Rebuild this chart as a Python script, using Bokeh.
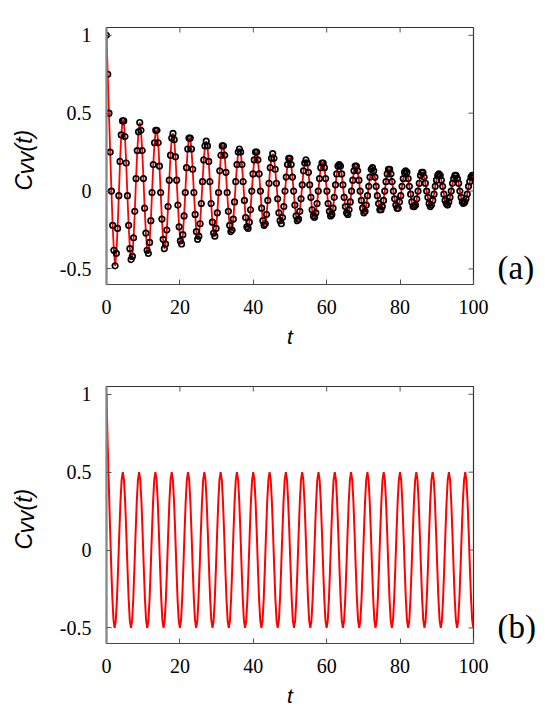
import math
from bokeh.plotting import figure
from bokeh.layouts import column, row
from bokeh.models import Range1d, FixedTicker, Label
from bokeh.embed import file_html
from bokeh.resources import INLINE

# ---------------- data ----------------
X_TICKS = [0, 20, 40, 60, 80, 100]
X_TICK_LABELS = ["0", "20", "40", "60", "80", "100"]
Y_TICKS = [-0.5, 0, 0.5, 1]
Y_TICK_LABELS = ["-0.5", "0", "0.5", "1"]
PANEL_TAGS = ["(a)", "(b)"]

# panel (a): sampled C_vv(t), time step between samples
DT_A = 0.3355
C_A = [
    1.0, 0.75, 0.5, 0.25, 0.0, -0.22, -0.38, -0.48, -0.40, -0.24, -0.03, 0.19, 0.36, 0.45, 0.45, 0.35, 0.18, -0.03, -0.22, -0.37, -0.44, -0.42, -0.30, -0.13, 0.08, 0.26, 0.38,
    0.44, 0.39, 0.26, 0.08, -0.11, -0.27, -0.38, -0.40, -0.33, -0.19, -0.01, 0.17, 0.31, 0.39, 0.39, 0.31, 0.16, -0.01, -0.18, -0.31, -0.37, -0.34, -0.25, -0.10, 0.07, 0.23, 0.34,
    0.37, 0.33, 0.22, 0.07, -0.09, -0.23, -0.32, -0.34, -0.28, -0.16, -0.01, 0.15, 0.27, 0.34, 0.34, 0.27, 0.14, -0.01, -0.15, -0.26, -0.31, -0.29, -0.21, -0.08, 0.06, 0.20, 0.29,
    0.32, 0.29, 0.19, 0.06, -0.08, -0.20, -0.27, -0.29, -0.24, -0.14, -0.01, 0.13, 0.23, 0.29, 0.29, 0.23, 0.12, -0.01, -0.13, -0.22, -0.26, -0.25, -0.18, -0.07, 0.06, 0.17, 0.25,
    0.27, 0.25, 0.17, 0.06, -0.06, -0.17, -0.23, -0.24, -0.20, -0.12, 0.00, 0.11, 0.20, 0.25, 0.25, 0.20, 0.11, 0.00, -0.11, -0.19, -0.22, -0.21, -0.15, -0.06, 0.05, 0.15, 0.21,
    0.24, 0.21, 0.14, 0.05, -0.05, -0.14, -0.19, -0.21, -0.17, -0.10, 0.00, 0.09, 0.17, 0.21, 0.21, 0.17, 0.09, 0.00, -0.09, -0.16, -0.19, -0.18, -0.13, -0.05, 0.04, 0.13, 0.18,
    0.20, 0.18, 0.12, 0.04, -0.04, -0.12, -0.16, -0.17, -0.14, -0.08, 0.00, 0.08, 0.15, 0.18, 0.18, 0.15, 0.08, 0.00, -0.08, -0.13, -0.16, -0.15, -0.11, -0.04, 0.04, 0.11, 0.16,
    0.17, 0.16, 0.11, 0.04, -0.04, -0.10, -0.14, -0.15, -0.12, -0.07, 0.00, 0.07, 0.13, 0.16, 0.16, 0.13, 0.07, 0.00, -0.06, -0.11, -0.14, -0.13, -0.09, -0.03, 0.03, 0.09, 0.14,
    0.15, 0.13, 0.09, 0.03, -0.03, -0.08, -0.12, -0.12, -0.10, -0.06, 0.00, 0.06, 0.11, 0.14, 0.14, 0.11, 0.06, 0.00, -0.05, -0.09, -0.11, -0.11, -0.07, -0.03, 0.03, 0.08, 0.12,
    0.13, 0.12, 0.08, 0.03, -0.02, -0.07, -0.10, -0.10, -0.09, -0.05, 0.00, 0.05, 0.10, 0.12, 0.12, 0.09, 0.05, 0.00, -0.04, -0.08, -0.10, -0.09, -0.06, -0.02, 0.03, 0.07, 0.10,
    0.11, 0.10, 0.07, 0.03, -0.02, -0.06, -0.08, -0.09, -0.07, -0.04, 0.00, 0.05, 0.08, 0.10, 0.10, 0.08, 0.05, 0.00, -0.04, -0.07, -0.08, -0.07, -0.05, -0.02, 0.03, 0.06, 0.09,
    0.10, 0.09,
]

# panel (b): C_vv(t), time step between samples
DT_B = 0.31735
C_B = [
    1.0, 0.678, 0.414, 0.157, -0.09, -0.303, -0.447, -0.5, -0.451, -0.312, -0.111, 0.111, 0.312, 0.451,
    0.5, 0.451, 0.312, 0.111, -0.111, -0.312, -0.451, -0.5, -0.451, -0.312, -0.111, 0.111, 0.312, 0.451,
    0.5, 0.451, 0.312, 0.111, -0.111, -0.312, -0.451, -0.5, -0.451, -0.312, -0.111, 0.111, 0.312, 0.451,
    0.5, 0.451, 0.312, 0.111, -0.111, -0.312, -0.451, -0.5, -0.451, -0.312, -0.111, 0.111, 0.312, 0.451,
    0.5, 0.451, 0.312, 0.111, -0.111, -0.312, -0.451, -0.5, -0.451, -0.312, -0.111, 0.111, 0.312, 0.451,
    0.5, 0.451, 0.312, 0.111, -0.111, -0.312, -0.451, -0.5, -0.451, -0.312, -0.111, 0.111, 0.312, 0.451,
    0.5, 0.451, 0.312, 0.111, -0.111, -0.312, -0.451, -0.5, -0.451, -0.312, -0.111, 0.111, 0.312, 0.451,
    0.5, 0.451, 0.312, 0.111, -0.111, -0.312, -0.451, -0.5, -0.451, -0.312, -0.111, 0.111, 0.312, 0.451,
    0.5, 0.451, 0.312, 0.111, -0.111, -0.312, -0.451, -0.5, -0.451, -0.312, -0.111, 0.111, 0.312, 0.451,
    0.5, 0.451, 0.312, 0.111, -0.111, -0.312, -0.451, -0.5, -0.451, -0.312, -0.111, 0.111, 0.312, 0.451,
    0.5, 0.451, 0.312, 0.111, -0.111, -0.312, -0.451, -0.5, -0.451, -0.312, -0.111, 0.111, 0.312, 0.451,
    0.5, 0.451, 0.312, 0.111, -0.111, -0.312, -0.451, -0.5, -0.451, -0.312, -0.111, 0.111, 0.312, 0.451,
    0.5, 0.451, 0.312, 0.111, -0.111, -0.312, -0.451, -0.5, -0.451, -0.312, -0.111, 0.111, 0.312, 0.451,
    0.5, 0.451, 0.312, 0.111, -0.111, -0.312, -0.451, -0.5, -0.451, -0.312, -0.111, 0.111, 0.312, 0.451,
    0.5, 0.451, 0.312, 0.111, -0.111, -0.312, -0.451, -0.5, -0.451, -0.312, -0.111, 0.111, 0.312, 0.451,
    0.5, 0.451, 0.312, 0.111, -0.111, -0.312, -0.451, -0.5, -0.451, -0.312, -0.111, 0.111, 0.312, 0.451,
    0.5, 0.451, 0.312, 0.111, -0.111, -0.312, -0.451, -0.5, -0.451, -0.312, -0.111, 0.111, 0.312, 0.451,
    0.5, 0.451, 0.312, 0.111, -0.111, -0.312, -0.451, -0.5, -0.451, -0.312, -0.111, 0.111, 0.312, 0.451,
    0.5, 0.451, 0.312, 0.111, -0.111, -0.312, -0.451, -0.5, -0.451, -0.312, -0.111, 0.111, 0.312, 0.451,
    0.5, 0.451, 0.312, 0.111, -0.111, -0.312, -0.451, -0.5, -0.451, -0.312, -0.111, 0.111, 0.312, 0.451,
    0.5, 0.451, 0.312, 0.111, -0.111, -0.312, -0.451, -0.5, -0.451, -0.312, -0.111, 0.111, 0.312, 0.451,
    0.5, 0.451, 0.312, 0.111, -0.111, -0.312, -0.451, -0.5, -0.451, -0.312, -0.111, 0.111, 0.312, 0.451,
    0.5, 0.451, 0.312, 0.111, -0.111, -0.312, -0.451, -0.5,
]

T_A = [round(i * DT_A, 4) for i in range(len(C_A))]
T_B = [round(i * DT_B, 4) for i in range(len(C_B))]

SERIF = "Liberation Serif"
SANS = "Liberation Sans"
X_MIN, X_MAX = 0, 100
Y_MIN, Y_MAX = -0.6, 1.05

LEFT_W = 45     # strip holding the y-axis title
RIGHT_W = 55    # strip holding the panel tag
MAIN_W = 545 - LEFT_W - RIGHT_W
FRAME_H = 257   # plot-frame height in pixels (strips share the row's frame)


def text_strip(width, height):
    """Bare figure; the row aligns its frame with the main frame, so its
    data units are pixels measured from the frame's bottom-left corner."""
    s = figure(width=width, height=height,
               x_range=Range1d(0, width), y_range=Range1d(0, FRAME_H),
               x_axis_type=None, y_axis_type=None, title=None,
               output_backend="svg", toolbar_location=None,
               min_border=0, background_fill_color="white", border_fill_color="white")
    s.outline_line_color = None
    s.grid.visible = False
    return s


def make_panel(tag, height, border_top, border_bottom):
    p = figure(width=MAIN_W, height=height,
               x_range=Range1d(X_MIN, X_MAX), y_range=Range1d(Y_MIN, Y_MAX),
               output_backend="svg", toolbar_location=None,
               min_border_left=106 - LEFT_W, min_border_right=MAIN_W - (106 - LEFT_W) - 367,
               min_border_top=border_top, min_border_bottom=border_bottom,
               background_fill_color="white", border_fill_color="white")
    p.xgrid.visible = False
    p.ygrid.visible = False
    p.outline_line_color = "#333333"
    p.outline_line_width = 1.2

    xa = p.xaxis[0]
    ya = p.yaxis[0]
    xa.ticker = FixedTicker(ticks=X_TICKS)
    ya.ticker = FixedTicker(ticks=Y_TICKS)
    xa.major_label_overrides = {v: s for v, s in zip(X_TICKS, X_TICK_LABELS)}
    ya.major_label_overrides = {v: s for v, s in zip(Y_TICKS, Y_TICK_LABELS)}
    for ax in (xa, ya):
        ax.major_tick_in = 5
        ax.major_tick_out = 0
        ax.minor_tick_line_color = None
        ax.major_tick_line_color = "#555555"
        ax.major_label_text_font = SERIF
        ax.major_label_text_font_size = "20px"
        ax.major_label_text_color = "black"
    xa.major_label_standoff = 15
    ya.major_label_standoff = 15
    ya.axis_line_color = "#888888"
    ya.axis_line_width = 2.2
    xa.axis_line_color = "#444444"
    xa.axis_line_width = 1.2

    xa.axis_label = "t"
    xa.axis_label_text_font = SANS
    xa.axis_label_text_font_style = "italic"
    xa.axis_label_text_font_size = "21px"
    xa.axis_label_text_color = "black"
    xa.axis_label_standoff = 8

    # mirrored inward ticks on top and right edges (clipped to the frame)
    p.scatter(X_TICKS, [Y_MAX] * len(X_TICKS), marker="dash", angle=math.pi / 2,
              size=10, line_color="#555555", line_width=1)
    p.scatter([X_MAX] * len(Y_TICKS), Y_TICKS, marker="dash",
              size=10, line_color="#555555", line_width=1)

    # left strip: y-axis title C_vv(t)
    left = text_strip(LEFT_W, height)
    common = dict(angle=math.pi / 2, text_font=SANS, text_font_style="italic",
                  text_align="left", text_baseline="alphabetic", text_color="black",
                  text_font_size="23px")
    left.add_layout(Label(x=23, y=94, text="C", **common))
    left.add_layout(Label(x=25, y=110, text="vv", **common))
    left.add_layout(Label(x=23, y=133, text="(t)", **common))

    # right strip: panel tag
    right = text_strip(RIGHT_W, height)
    right.add_layout(Label(x=7, y=17, text=tag, text_font=SERIF, text_font_size="33px",
                           text_align="left", text_baseline="alphabetic", text_color="black"))
    return p, left, right


p1, l1, r1 = make_panel(PANEL_TAGS[0], 358, 27, 74)
p1.line(T_A, C_A, line_color="#ff0000", line_width=1.8)
p1.scatter(T_A, C_A, marker="circle", size=5.5, fill_color=None,
           line_color="black", line_width=1.7)

p2, l2, r2 = make_panel(PANEL_TAGS[1], 355, 28, 70)
p2.line(T_B, C_B, line_color="#ff0000", line_width=2)

layout = column(row(l1, p1, r1), row(l2, p2, r2))
open("out.html", "w").write(file_html(layout, INLINE))
